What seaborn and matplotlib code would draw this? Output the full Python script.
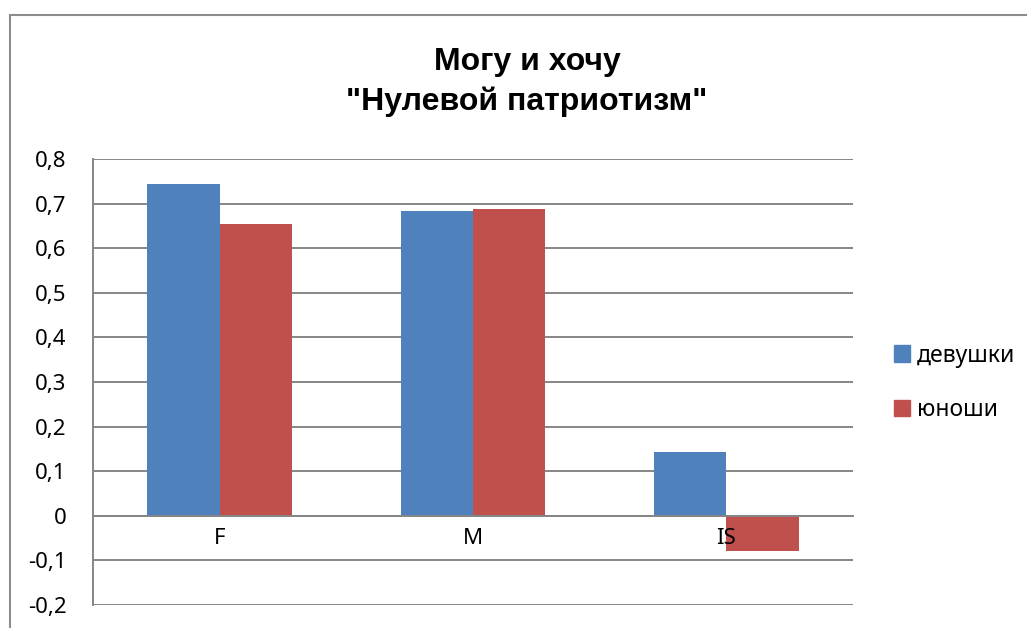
"""
plot.py
-------
Grouped bar chart "Могу и хочу / Нулевой патриотизм" (девушки vs юноши).
"""

import matplotlib
matplotlib.use("Agg")
import matplotlib.pyplot as plt
import matplotlib.patches as mpatches
from matplotlib.ticker import FuncFormatter
import pandas as pd
import seaborn as sns

categories = ["F", "M", "IS"]
series_names = ["девушки", "юноши"]
girls = [0.745, 0.683, 0.143]
boys = [0.654, 0.687, -0.078]
title = 'Могу и хочу\n"Нулевой патриотизм"'
colors = ["#4F81BD", "#C0504D"]

sns.set_theme(style="white")
plt.rcParams["font.family"] = ["Noto Sans", "DejaVu Sans"]
plt.rcParams["text.color"] = "black"

df = pd.DataFrame({
    "category": categories * 2,
    "group": [series_names[0]] * 3 + [series_names[1]] * 3,
    "value": girls + boys,
})

fig = plt.figure(figsize=(10.27, 6.28), dpi=100)
ax = fig.add_axes([93 / 1027, 1 - 605 / 628, 760 / 1027, 446 / 628])

sns.barplot(data=df, x="category", y="value", hue="group", order=categories,
            hue_order=series_names, palette=colors, width=0.57, saturation=1,
            edgecolor="none", linewidth=0, ax=ax, legend=False)

grid_color = "#868686"
ax.set_ylim(-0.2, 0.8)
ax.set_xlim(-0.5, 2.5)
ax.set_yticks([i / 10 for i in range(-2, 9)])
ax.yaxis.set_major_formatter(FuncFormatter(lambda v, _: "0" if abs(v) < 1e-9 else f"{v:.1f}".replace(".", ",")))
ax.yaxis.grid(True, color=grid_color, linewidth=1.4)
ax.set_axisbelow(True)
ax.xaxis.set_zorder(3)  # category labels drawn over the bars, like Excel
ax.spines["bottom"].set_position(("data", 0))
ax.spines["bottom"].set_color(grid_color)
ax.spines["bottom"].set_linewidth(1.4)
ax.spines["left"].set_color(grid_color)
ax.spines["left"].set_linewidth(1.4)
ax.spines["top"].set_visible(False)
ax.spines["right"].set_visible(False)
ax.tick_params(axis="both", length=0, labelsize=16, colors="black")
ax.tick_params(axis="y", pad=19)
ax.tick_params(axis="x", pad=9)
ax.set_xlabel("")
ax.set_ylabel("")

fig.text(527 / 1027, 1 - 82 / 628, title, ha="center", va="center", color="black",
         fontsize=23, fontweight="bold", linespacing=1.42,
         family=["Liberation Sans", "DejaVu Sans"])

handles = [mpatches.Patch(color=c, label=n) for c, n in zip(colors, series_names)]
fig.legend(handles=handles, loc="center left", bbox_to_anchor=(885 / 1027, 1 - 383 / 628),
           frameon=False, fontsize=16.5, handlelength=0.7, handleheight=0.7,
           handletextpad=0.3, labelspacing=1.35, borderaxespad=0)

frame = mpatches.Rectangle((10 / 1027, -0.1), 1.2, 1 - 15 / 628 + 0.1, transform=fig.transFigure,
                           fill=False, edgecolor="#8C8C8C", linewidth=1.5, clip_on=False)
fig.patches.append(frame)

fig.savefig("out.png", dpi=100)
plt.close(fig)
